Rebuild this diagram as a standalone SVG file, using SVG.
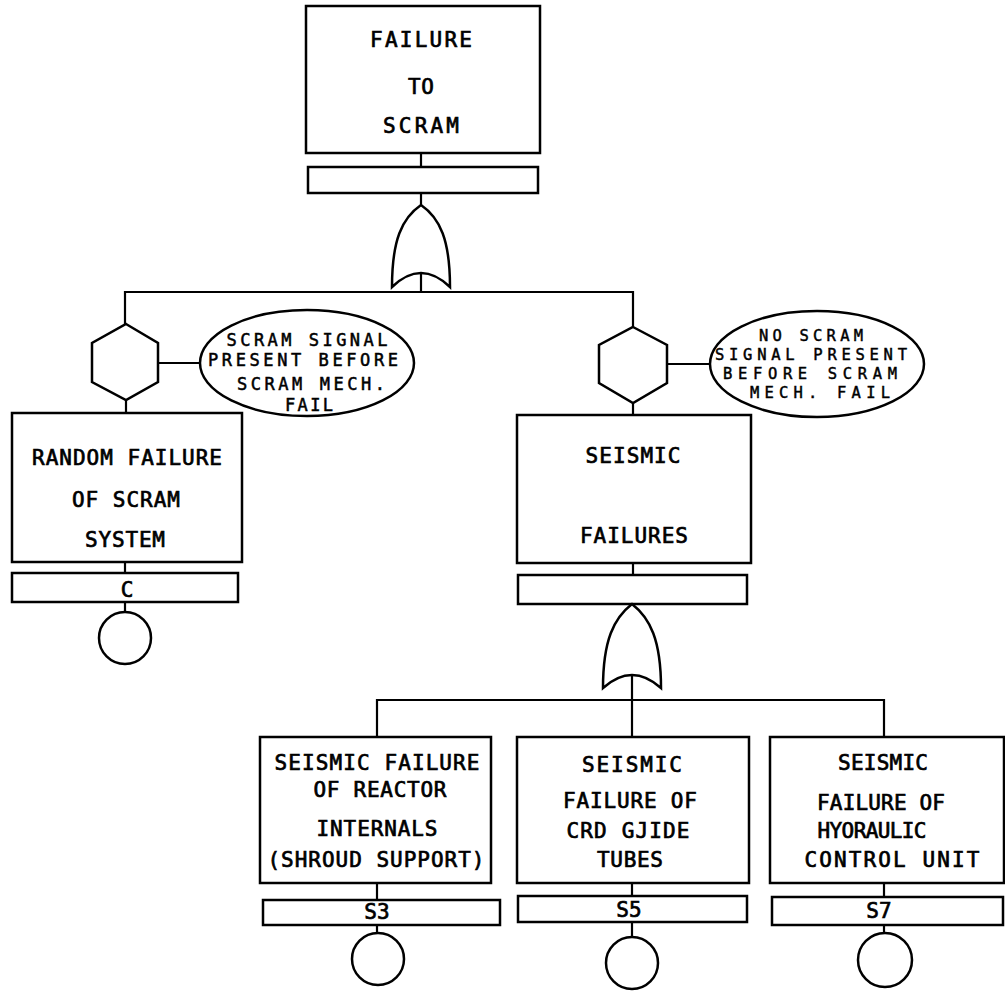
<svg xmlns="http://www.w3.org/2000/svg" width="1005" height="991" viewBox="0 0 1005 991">
<style>
.b{fill:none;stroke:#000;stroke-width:2.5}
.c{fill:none;stroke:#000;stroke-width:2.2}
.t{font-family:"DejaVu Sans Mono","Liberation Mono",monospace;font-size:21px;fill:#000;stroke:#000;stroke-width:0.7;text-anchor:middle}
.s{font-family:"DejaVu Sans Mono","Liberation Mono",monospace;font-size:17px;fill:#000;stroke:#000;stroke-width:0.5;text-anchor:middle}
.r{font-family:"DejaVu Sans Mono","Liberation Mono",monospace;font-size:15.5px;fill:#000;stroke:#000;stroke-width:0.45;text-anchor:middle}
</style>
<rect width="1005" height="991" fill="#fff"/>
<g id="connectors" class="c">
<line x1="421" y1="153" x2="421" y2="167"/>
<line x1="421" y1="193" x2="421" y2="205"/>
<line x1="421" y1="273" x2="421" y2="292"/>
<polyline points="125,324 125,292 633,292 633,327"/>
<line x1="126" y1="400" x2="126" y2="413"/>
<line x1="158" y1="363" x2="200" y2="363"/>
<line x1="667" y1="364" x2="710" y2="364"/>
<line x1="633" y1="403" x2="633" y2="415"/>
<line x1="125" y1="562" x2="125" y2="573"/>
<line x1="125" y1="602" x2="125" y2="612"/>
<line x1="633" y1="563" x2="633" y2="575"/>
<line x1="632" y1="675" x2="632" y2="700"/>
<polyline points="377,737 377,700 884,700 884,737"/>
<line x1="632" y1="700" x2="632" y2="737"/>
<line x1="377" y1="883" x2="377" y2="900"/>
<line x1="632" y1="883" x2="632" y2="896"/>
<line x1="884" y1="883" x2="884" y2="897"/>
<line x1="377" y1="925" x2="377" y2="933"/>
<line x1="632" y1="922" x2="632" y2="937"/>
<line x1="884" y1="925" x2="884" y2="933"/>
</g>
<g id="top">
<rect class="b" x="306" y="6" width="234" height="147"/>
<text class="t" x="421" y="47" textLength="102">FAILURE</text>
<text class="t" x="421" y="94" textLength="26">TO</text>
<text class="t" x="421" y="133" textLength="76">SCRAM</text>
<rect class="b" x="308" y="167" width="230" height="26"/>
</g>
<g id="gate1">
<path class="b" d="M421,205 C440,218 450,240 450,287 Q421,259 392,287 C392,240 402,218 421,205 Z"/>
</g>
<g id="cond1">
<polygon class="b" points="126,324 158,343 158,382 126,400 92,382 92,343"/>
<ellipse class="b" cx="307" cy="363" rx="107" ry="53"/>
<text class="s" x="307" y="346" textLength="161">SCRAM SIGNAL</text>
<text class="s" x="303" y="366" textLength="190">PRESENT BEFORE</text>
<text class="s" x="311" y="390" textLength="148">SCRAM MECH.</text>
<text class="s" x="309" y="411" textLength="48">FAIL</text>
</g>
<g id="cond2">
<polygon class="b" points="633,327 667,345 667,383 633,403 599,383 599,345"/>
<ellipse class="b" cx="817" cy="364" rx="107" ry="53"/>
<text class="r" x="811" y="341" textLength="104">NO SCRAM</text>
<text class="r" x="811" y="360" textLength="192">SIGNAL PRESENT</text>
<text class="r" x="810" y="379" textLength="174">BEFORE SCRAM</text>
<text class="r" x="820" y="398" textLength="140">MECH. FAIL</text>
</g>
<g id="random">
<rect class="b" x="12" y="413" width="230" height="149"/>
<text class="t" x="127" y="465" textLength="190">RANDOM FAILURE</text>
<text class="t" x="126" y="507" textLength="108">OF SCRAM</text>
<text class="t" x="125" y="547" textLength="80">SYSTEM</text>
<rect class="b" x="12" y="573" width="226" height="29"/>
<text class="t" x="127" y="597">C</text>
<circle class="b" cx="125" cy="638" r="26"/>
</g>
<g id="seismic">
<rect class="b" x="517" y="415" width="234" height="148"/>
<text class="t" x="633" y="463" textLength="95">SEISMIC</text>
<text class="t" x="634" y="543" textLength="108">FAILURES</text>
<rect class="b" x="518" y="575" width="229" height="29"/>
</g>
<g id="gate2">
<path class="b" d="M632,604 C650,618 661,640 661,688 Q632,662 603,688 C603,640 614,618 632,604 Z"/>
</g>
<g id="s3">
<rect class="b" x="260" y="737" width="231" height="146"/>
<text class="t" x="377" y="770" textLength="205">SEISMIC FAILURE</text>
<text class="t" x="380" y="797" textLength="133">OF REACTOR</text>
<text class="t" x="377" y="836" textLength="121">INTERNALS</text>
<text class="t" x="376" y="867" textLength="217">(SHROUD SUPPORT)</text>
<rect class="b" x="263" y="900" width="237" height="25"/>
<text class="t" x="377" y="919">S3</text>
<circle class="b" cx="378" cy="959" r="26"/>
</g>
<g id="s5">
<rect class="b" x="517" y="737" width="232" height="146"/>
<text class="t" x="632" y="772" textLength="100">SEISMIC</text>
<text class="t" x="630" y="808" textLength="134">FAILURE OF</text>
<text class="t" x="628" y="838" textLength="123">CRD GJIDE</text>
<text class="t" x="630" y="867" textLength="66">TUBES</text>
<rect class="b" x="518" y="896" width="229" height="26"/>
<text class="t" x="629" y="917">S5</text>
<circle class="b" cx="632" cy="963" r="26"/>
</g>
<g id="s7">
<rect class="b" x="770" y="737" width="234" height="146"/>
<text class="t" x="883" y="770" textLength="90">SEISMIC</text>
<text class="t" x="881" y="810" textLength="128">FAILURE OF</text>
<text class="t" x="872" y="838" textLength="109">HYORAULIC</text>
<text class="t" x="892" y="867" textLength="175">CONTROL UNIT</text>
<rect class="b" x="772" y="897" width="231" height="28"/>
<text class="t" x="879" y="918">S7</text>
<circle class="b" cx="885" cy="960" r="27"/>
</g>
</svg>
